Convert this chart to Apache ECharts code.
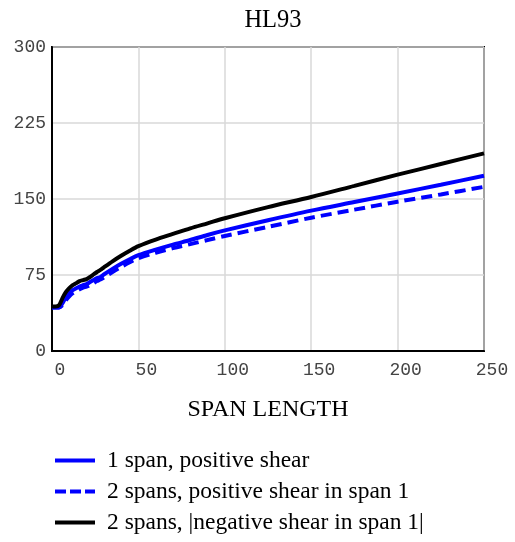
<!DOCTYPE html>
<html>
<head>
<meta charset="utf-8">
<title>HL93</title>
<script src="https://cdn.jsdelivr.net/npm/echarts@6/dist/echarts.min.js"></script>
<style>
  html, body { margin: 0; padding: 0; background: #fff; }
  #myChart { width: 515px; height: 542px; }
</style>
</head>
<body>
<div id="myChart"></div>
<script>
// span length (x)
var spanLength = [0, 2, 4, 6, 8, 10, 12, 14, 16, 18, 20, 22, 24, 26, 28, 30, 35, 40, 45, 50,
  60, 70, 80, 90, 100, 125, 150, 175, 200, 225, 250];
// 1 span, positive shear
var onePos = [43, 43, 43, 47, 53, 57, 60, 62, 63.5, 65, 66, 68, 70, 72, 73, 75.5, 81, 86, 90.5, 94.5,
  100, 105, 109.5, 114.5, 119, 129, 138.5, 147, 155.5, 164, 173];
// 2 spans, positive shear in span 1
var twoPos = [43, 43, 43, 45, 50, 54, 57, 59, 61, 62.5, 63.5, 65, 67, 69, 70.5, 72.5, 78, 83, 87.5, 91.5,
  97, 101.5, 105.5, 109.5, 113.5, 122.5, 131.5, 139.5, 147.3, 154.5, 162];
// 2 spans, |negative shear in span 1|
var twoNeg = [44, 44, 45, 52, 58, 62, 65, 67, 69, 70, 71, 73, 75.5, 78, 80, 82.5, 88.5, 94, 99, 103.5,
  110, 115.5, 121, 126, 131, 142, 152, 163, 174, 184.5, 195];

var seriesNames = ["1 span, positive shear", "2 spans, positive shear in span 1", "2 spans, |negative shear in span 1|"];
var xTicks = [0, 50, 100, 150, 200, 250];
var yTicks = [0, 75, 150, 225, 300];

function pairs(xs, ys) {
  var out = [];
  for (var i = 0; i < xs.length; i++) {
    out.push([xs[i], ys[i]]);
  }
  return out;
}

var serif = "'Liberation Serif', 'DejaVu Serif', serif";
var mono = "'Liberation Mono', 'DejaVu Sans Mono', monospace";

// legend icons: solid bar / three dashes
var solidIcon = "path://M0,0L40,0L40,4L0,4Z";
var dashIcon = "path://M0,0L11,0L11,4L0,4Z M15,0L26,0L26,4L15,4Z M30,0L40,0L40,4L30,4Z";

var chart = echarts.init(document.getElementById("myChart"));
var option = {
  animation: false,
  title: {
    text: "HL93",
    left: 268,
    textAlign: "center",
    top: 3,
    textStyle: { fontFamily: serif, fontSize: 24.5, fontWeight: "normal", color: "#000" }
  },
  grid: {
    left: 52,
    right: 31,
    top: 47,
    bottom: 191,
    show: true,
    borderColor: "#000",
    borderWidth: 2
  },
  legend: {
    orient: "vertical",
    left: 55,
    top: 448,
    padding: 0,
    itemWidth: 40,
    itemHeight: 14,
    itemGap: 6,
    textStyle: { fontFamily: serif, fontSize: 23.5, lineHeight: 25, color: "#000", padding: [0, 0, 0, 7] },
    data: [
      { name: seriesNames[0], icon: solidIcon },
      { name: seriesNames[1], icon: dashIcon },
      { name: seriesNames[2], icon: solidIcon }
    ]
  },
  xAxis: {
    type: "value",
    min: xTicks[0],
    max: xTicks[xTicks.length - 1],
    interval: 50,
    name: "SPAN LENGTH",
    nameLocation: "middle",
    nameGap: 47,
    nameTextStyle: { fontFamily: serif, fontSize: 24, color: "#000" },
    axisLine: { show: true, lineStyle: { color: "#000", width: 2 } },
    axisTick: { show: false },
    axisLabel: { fontFamily: mono, fontSize: 18, color: "#444", margin: 10, padding: [0, 0, 0, 16] },
    splitLine: { show: true, lineStyle: { color: "#d9d9d9", width: 1.5 } }
  },
  yAxis: {
    type: "value",
    min: yTicks[0],
    max: yTicks[yTicks.length - 1],
    interval: 75,
    axisLine: { show: true, lineStyle: { color: "#000", width: 2 } },
    axisTick: { show: false },
    axisLabel: { fontFamily: mono, fontSize: 18, color: "#444", margin: 6, padding: [6, 0, 0, 0] },
    splitLine: { show: true, lineStyle: { color: "#d9d9d9", width: 1.5 } }
  },
  series: [
    {
      name: seriesNames[0],
      type: "line",
      symbol: "none",
      smooth: 0.3,
      lineStyle: { color: "#0000ff", width: 4 },
      itemStyle: { color: "#0000ff" },
      data: pairs(spanLength, onePos)
    },
    {
      name: seriesNames[1],
      type: "line",
      symbol: "none",
      smooth: 0.3,
      lineStyle: { color: "#0000ff", width: 4, type: [11, 6] },
      itemStyle: { color: "#0000ff" },
      data: pairs(spanLength, twoPos)
    },
    {
      name: seriesNames[2],
      type: "line",
      symbol: "none",
      smooth: 0.3,
      lineStyle: { color: "#000", width: 4 },
      itemStyle: { color: "#000" },
      data: pairs(spanLength, twoNeg)
    }
  ]
};
chart.setOption(option);
</script>
</body>
</html>
